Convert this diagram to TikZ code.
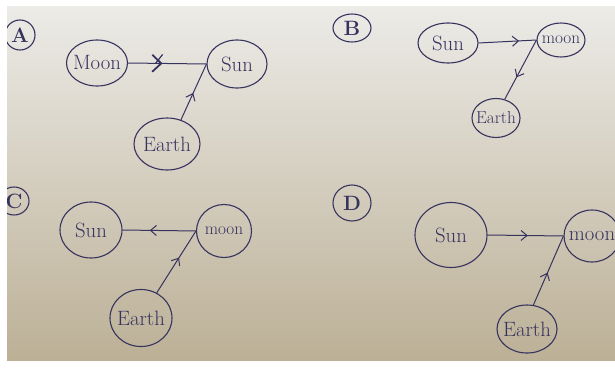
\documentclass[tikz,border=0pt]{standalone}
\usepackage{tikz}
\usetikzlibrary{shapes.geometric,decorations.markings,arrows.meta}
\definecolor{ink}{HTML}{37335F}
\definecolor{paperTop}{HTML}{ECEBE7}
\definecolor{paperBot}{HTML}{BCB096}
\tikzset{
  body/.style={ellipse,draw=ink,line width=1.1pt,inner xsep=-14pt,inner ysep=-5pt,font=\huge,text=ink},
  tag/.style={ellipse,draw=ink,line width=1.1pt,inner xsep=-6pt,inner ysep=-4pt,font=\huge\bfseries,text=ink},
  midarrow/.style={draw=ink,line width=1pt,postaction={decorate},
    decoration={markings,mark=at position #1 with {\arrow{Straight Barb[length=6pt,width=10pt]}}}},
  midarrow/.default=0.5,
  crossarrow/.style={draw=ink,line width=1pt,postaction={decorate},
    decoration={markings,mark=at position #1 with {\arrow[line width=1.8pt]{Straight Barb[length=9pt,width=17pt]}
      \draw[ink,line width=1.2pt] (0pt,9pt) -- (-7pt,0pt);}}},
}
\begin{document}
\begin{tikzpicture}[x=1pt,y=-1pt]
		\useasboundingbox (0,0) rectangle (615,369);
		% paper
		\fill [white] (0,0) rectangle (615,369);
		\shade [top color=paperTop,bottom color=paperBot] (7,7) rectangle (615,360);
		\begin{scope}
		\clip (7,7) rectangle (615,360);
		% panel A
		\node [tag,minimum width=30pt,minimum height=30pt] (tagA) at (20,35) {A};
		\node [body,minimum width=61pt,minimum height=46pt] (moonA) at (97,63) {Moon};
		\node [body,minimum width=60pt,minimum height=48pt] (sunA) at (237,64) {Sun};
		\node [body,minimum width=66pt,minimum height=52pt] (earthA) at (167,144) {Earth};
		\draw [crossarrow=0.44] (moonA.east) -- (sunA.west);
		\draw [midarrow=0.48] (earthA.60) -- (sunA.west);
		% panel B
		\node [tag,minimum width=38pt,minimum height=28pt] (tagB) at (352,28) {B};
		\node [body,minimum width=60pt,minimum height=40pt] (sunB) at (448,43) {Sun};
		\node [body,minimum width=48pt,minimum height=34pt,font=\LARGE] (moonB) at (561,40) {moon};
		\node [body,minimum width=48pt,minimum height=39pt,font=\LARGE] (earthB) at (496,118) {Earth};
		\draw [midarrow=0.7] (sunB.east) -- (moonB.west);
		\draw [midarrow=0.63] (moonB.west) -- (earthB.65);
		% panel C
		\node [tag,minimum width=30pt,minimum height=28pt] (tagC) at (14,201) {C};
		\node [body,minimum width=62pt,minimum height=56pt] (sunC) at (91,230) {Sun};
		\node [body,minimum width=55pt,minimum height=53pt,font=\LARGE] (moonC) at (224,231) {moon};
		\node [body,minimum width=62pt,minimum height=57pt] (earthC) at (141,318) {Earth};
		\draw [midarrow=0.63] (moonC.west) -- (sunC.east);
		\draw [midarrow=0.57] (earthC.58) -- (moonC.west);
		% panel D
		\node [tag,minimum width=38pt,minimum height=36pt] (tagD) at (352,203) {D};
		\node [body,minimum width=72pt,minimum height=65pt] (sunD) at (451,235) {Sun};
		\node [body,minimum width=56pt,minimum height=52pt] (moonD) at (592,236) {moon};
		\node [body,minimum width=60pt,minimum height=48pt] (earthD) at (527,329) {Earth};
		\draw [midarrow=0.53] (sunD.east) -- (moonD.west);
		\draw [midarrow=0.47] (earthD.75) -- (moonD.west);
		\end{scope}
	\end{tikzpicture}
\end{document}
